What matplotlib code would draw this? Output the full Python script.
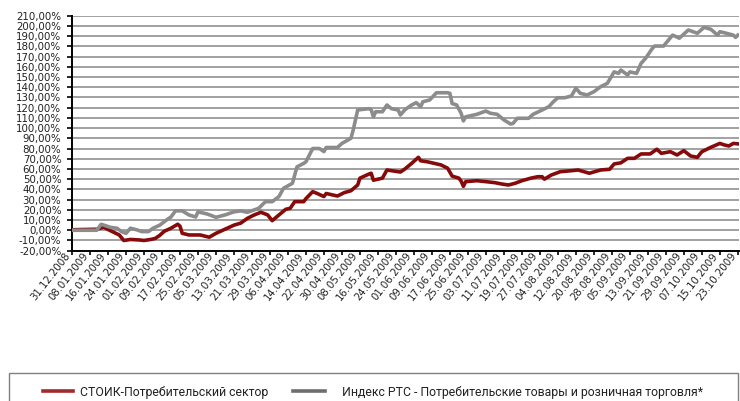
import matplotlib
matplotlib.use('Agg')
import matplotlib.pyplot as plt
import matplotlib.patches as patches
from matplotlib.lines import Line2D
from matplotlib.ticker import FuncFormatter, MultipleLocator
import pandas as pd

# Дни от 31.12.2008 и значения (%)
stoik_days = [0, 11, 14, 18, 21, 23, 26, 30, 32, 35, 37, 39, 41, 44, 47, 48, 49, 52, 57, 61,
              64, 69, 72, 75, 78, 81, 84, 87, 89, 92, 95, 97, 99, 103, 104, 107, 109, 112, 113,
              118, 121, 124, 127, 128, 132, 133, 134, 138, 140, 146, 148, 151, 154, 155, 158,
              161, 164, 167, 169, 172, 173, 174, 175, 180, 184, 188, 191, 194, 197, 200, 204,
              207, 209, 210, 213, 217, 222, 225, 230, 235, 239, 241, 244, 247, 250, 253, 257,
              260, 262, 266, 269, 272, 275, 278, 280, 284, 288, 290, 292, 294, 296]
stoik_vals = [0.5, 1.0, 3.0, -1.4, -4.6, -10.0, -9.0, -9.5, -10.0, -9.0, -8.0, -5.0, -1.0, 2.0,
              5.9, 4.0, -3.0, -4.6, -4.6, -6.8, -3.0, 2.0, 5.0, 7.0, 11.7, 15.0, 17.6, 15.0, 9.4,
              15.0, 20.5, 21.5, 28.0, 28.0, 31.0, 37.8, 36.0, 33.0, 36.0, 33.5, 36.8, 38.7, 44.3,
              51.0, 55.0, 55.8, 49.0, 51.0, 59.0, 57.0, 60.0, 65.5, 71.4, 68.0, 67.0, 65.5, 64.0,
              60.7, 53.0, 51.0, 48.0, 43.0, 47.6, 48.5, 47.6, 46.6, 45.3, 44.3, 46.0, 48.5, 51.0,
              52.4, 52.4, 50.0, 54.0, 57.3, 58.3, 59.0, 55.8, 59.0, 59.7, 64.9, 66.0, 70.4, 70.4,
              74.7, 74.7, 79.3, 75.3, 76.9, 73.7, 77.9, 72.7, 71.4, 76.9, 81.2, 85.0, 83.5, 82.5,
              85.0, 84.6]

rts_days = [0, 11, 13, 17, 20, 22, 24, 26, 29, 31, 34, 36, 39, 42, 44, 46, 49, 52, 55, 56, 60,
            64, 68, 72, 75, 78, 83, 86, 89, 92, 94, 98, 100, 103, 104, 107, 110, 112, 113, 118,
            120, 124, 125, 127, 128, 132, 133, 134, 135, 138, 140, 142, 145, 146, 148, 151, 153,
            155, 156, 159, 162, 167, 168, 169, 171, 173, 174, 175, 180, 184, 186, 189, 192, 195,
            196, 198, 203, 205, 209, 212, 214, 216, 219, 222, 224, 226, 229, 232, 235, 238, 241,
            243, 244, 247, 248, 251, 253, 255, 258, 259, 263, 264, 267, 270, 274, 278, 281, 284,
            287, 288, 290, 294, 295, 296]
rts_vals = [0.0, 0.0, 5.9, 2.9, 2.0, -1.3, -3.0, 2.0, 0.3, -1.3, -1.3, 2.0, 5.0, 10.0, 13.0,
            19.0, 19.0, 15.0, 13.0, 18.0, 16.0, 12.7, 15.0, 18.0, 19.0, 17.6, 21.5, 28.0, 28.0,
            33.0, 41.0, 46.0, 62.0, 65.5, 67.0, 80.0, 80.0, 77.0, 81.0, 81.0, 85.0, 90.0, 98.0,
            117.7, 118.0, 119.0, 118.0, 111.0, 116.0, 116.0, 122.6, 119.0, 117.7, 112.8, 118.0,
            122.6, 124.9, 121.0, 125.8, 127.5, 134.6, 134.6, 134.0, 124.0, 122.6, 114.5, 107.0,
            111.0, 113.5, 116.7, 114.5, 113.5, 108.0, 104.0, 104.5, 109.6, 109.6, 113.5, 117.7,
            121.0, 125.8, 129.7, 129.7, 131.4, 139.0, 134.0, 132.4, 135.6, 140.5, 143.8, 155.0,
            153.6, 156.8, 152.0, 155.0, 153.6, 163.4, 168.3, 178.0, 180.3, 180.3, 183.0, 191.0,
            188.0, 196.0, 192.8, 198.6, 196.7, 191.0, 194.3, 193.3, 191.0, 188.8, 191.0]

series_names = ['СТОИК-Потребительский сектор',
                'Индекс РТС - Потребительские товары и розничная торговля*']

start = pd.Timestamp('2008-12-31')
stoik_dates = start + pd.to_timedelta(stoik_days, unit='D')
rts_dates = start + pd.to_timedelta(rts_days, unit='D')
tick_dates = pd.date_range(start, periods=38, freq='8D')
tick_labels = [d.strftime('%d.%m.%Y') for d in tick_dates]

RED = '#870A0A'
GRAY = '#8C8C8C'

fig = plt.figure(figsize=(7.4, 4.01), dpi=100, facecolor='white')
ax = fig.add_axes([72 / 740, 1 - 250.7 / 401, 666.5 / 740, 235 / 401])

ax.plot(stoik_dates, stoik_vals, color=RED, linewidth=2.6, solid_joinstyle='round', zorder=3)
ax.plot(rts_dates, rts_vals, color=GRAY, linewidth=2.6, solid_joinstyle='round', zorder=4)

ax.set_ylim(-20, 210)
ax.set_xlim(start, start + pd.Timedelta(days=296.3))
ax.yaxis.set_major_locator(MultipleLocator(10))
ax.yaxis.set_major_formatter(FuncFormatter(lambda v, p: f"{v:.2f}".replace('.', ',') + '%'))
ax.grid(axis='y', color='#9A9A9A', linewidth=1.3, zorder=1)
ax.set_axisbelow(True)

ax.set_xticks(tick_dates)
ax.set_xticklabels(tick_labels)
for lbl in ax.get_xticklabels():
    lbl.set_rotation(52)
    lbl.set_rotation_mode('anchor')
    lbl.set_ha('right')
    lbl.set_va('bottom')

for s in ['top', 'right']:
    ax.spines[s].set_visible(False)
for s in ['left', 'bottom']:
    ax.spines[s].set_color('black')
    ax.spines[s].set_linewidth(1.4)

ax.tick_params(axis='y', length=3.6, width=1.2, pad=4, labelsize=7.4, colors='black',
               labelcolor='#222222')
ax.tick_params(axis='x', length=2.6, width=1.2, pad=1.6, labelsize=7.3, colors='black',
               labelcolor='#222222')

# Легенда в рамке внизу
frame = patches.Rectangle((9 / 740, -0.05), 729 / 740, 0.05 + 28 / 401, transform=fig.transFigure,
                          facecolor='white', edgecolor='#808080', linewidth=1.0)
fig.add_artist(frame)
ly = 1 - 390.7 / 401
fig.add_artist(Line2D([43 / 740, 73 / 740], [ly, ly], transform=fig.transFigure,
                      color='#A32A2A', linewidth=2.6))
fig.add_artist(Line2D([293 / 740, 325 / 740], [ly, ly], transform=fig.transFigure,
                      color='#6E6E6E', linewidth=2.6))
leg_font = ['Roboto', 'DejaVu Sans']
fig.text(80 / 740, 1 - 392.5 / 401, series_names[0], family=leg_font, fontsize=8.8,
         va='center', ha='left', color='#222222')
fig.text(342 / 740, 1 - 392.5 / 401, series_names[1], family=leg_font, fontsize=8.8,
         va='center', ha='left', color='#222222')

fig.savefig('out.png', dpi=100, facecolor='white')
